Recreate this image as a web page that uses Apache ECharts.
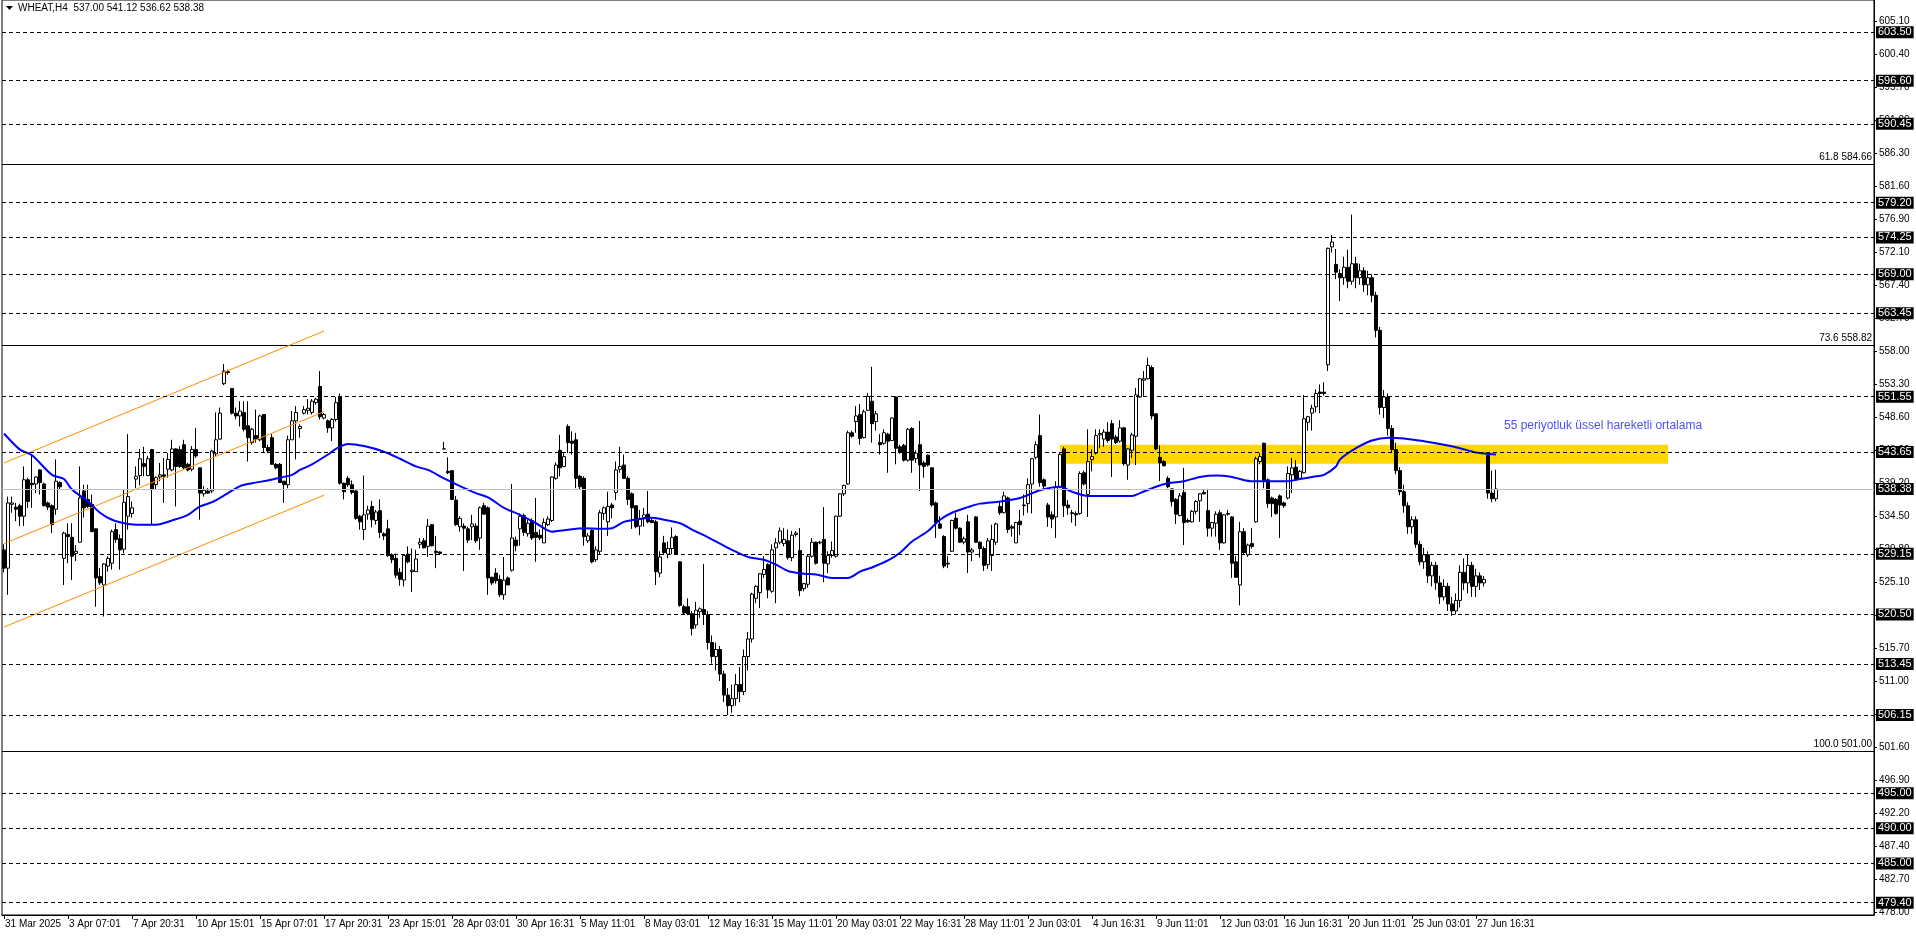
<!DOCTYPE html>
<html><head><meta charset="utf-8">
<script src="https://cdn.jsdelivr.net/npm/echarts@6.0.0/dist/echarts.min.js"></script>
<style>html,body{margin:0;padding:0;background:#fff;overflow:hidden}#c{width:1916px;height:936px}</style>
</head><body><div id="c"></div>
<script>
const headerText = 'WHEAT,H4  537.00 541.12 536.62 538.38';
const maText = '55 periyotluk üssel hareketli ortalama';
const timeLabels = ['31 Mar 2025','3 Apr 07:01','7 Apr 20:31','10 Apr 15:01','15 Apr 07:01','17 Apr 20:31','23 Apr 15:01','28 Apr 03:01','30 Apr 16:31','5 May 11:01','8 May 03:01','12 May 16:31','15 May 11:01','20 May 03:01','22 May 16:31','28 May 11:01','2 Jun 03:01','4 Jun 16:31','9 Jun 11:01','12 Jun 03:01','16 Jun 16:31','20 Jun 11:01','25 Jun 03:01','27 Jun 16:31'];
const priceTicks = [605.10,600.40,595.70,591.00,586.30,581.60,576.90,572.10,567.40,562.70,558.00,553.30,548.60,543.90,539.20,534.50,529.80,525.10,520.40,515.70,511.00,506.30,501.60,496.90,492.20,487.40,482.70,478.00];
const dashedLevels = [603.50,596.60,590.45,579.20,574.25,569.00,563.45,551.55,543.65,529.15,520.50,513.45,506.15,495.00,490.00,485.00,479.40];
const fibNames = ['61.8','73.6','100.0'];
const fibLevels = [584.66,558.82,501.00];
const lastPrice = 538.38;
const zoneBars = [264, 416];
const zonePrices = [544.7, 542.0];
const channelBars = [0, 80];
const channelUpper = [542.1, 560.9];
const channelMiddle = [530.6, 549.4];
const channelLower = [518.7, 537.5];
const maLabelPoint = [374.5, 547.4];
// [open, close, low, high]
const candles = [
[529.7,527.1,526.5,530.5],[527.1,536.4,523.3,537.3],[536.2,536.4,535.0,537.3],[535.8,535.5,533.8,536.4],[536.0,534.5,533.1,536.3],
[534.5,539.7,533.1,541.6],[539.7,536.6,535.7,540.0],[539.2,539.0,535.7,543.1],[539.1,540.1,537.8,540.2],[541.1,539.3,537.6,541.2],
[539.1,536.0,535.9,539.3],[536.4,535.8,535.4,536.6],[536.0,533.3,532.1,536.2],[535.5,539.5,534.7,542.6],[539.3,538.7,538.3,539.5],
[528.5,532.1,524.7,532.3],[531.9,531.6,527.8,533.5],[531.5,528.8,525.4,533.5],[529.2,529.5,528.1,530.4],[530.8,537.1,530.8,541.6],
[538.1,535.7,534.3,539.0],[536.9,535.9,535.7,539.0],[536.2,532.3,532.3,537.6],[532.7,525.7,521.6,532.8],[525.9,525.0,524.7,527.1],
[524.7,527.7,520.2,527.8],[527.4,528.5,526.6,528.8],[527.8,532.3,526.9,532.6],[532.6,531.2,530.7,533.5],[531.3,529.7,526.9,531.9],
[529.8,536.5,529.2,538.3],[534.5,537.3,532.6,546.2],[534.9,535.7,534.3,536.6],[539.8,540.2,538.5,541.6],[540.3,542.7,538.9,544.1],
[542.0,541.6,540.2,544.4],[540.3,542.7,540.2,543.1],[544.0,538.3,533.3,544.1],[539.0,540.0,538.3,540.2],[540.1,540.4,539.5,542.1],
[540.4,540.2,536.4,542.8],[541.2,542.6,540.0,543.5],[541.1,544.1,540.9,545.4],[544.1,541.6,535.9,544.2],[544.0,541.6,541.4,544.5],
[544.7,541.4,541.2,545.4],[541.9,541.1,540.9,542.1],[541.2,544.0,540.9,544.5],[544.0,543.1,542.8,547.1],[541.4,537.8,534.0,541.4],
[537.7,538.2,537.3,538.8],[538.1,537.8,537.7,538.5],[538.1,543.8,537.8,544.0],[543.4,545.4,543.1,549.3],[545.5,549.2,545.4,550.0],
[553.4,555.2,553.2,556.2],[555.1,555.0,554.7,555.4],[552.7,549.2,549.0,552.8],[549.2,548.8,548.3,550.0],[548.8,549.5,547.3,550.9],
[549.3,546.9,546.6,550.9],[547.4,545.7,542.3,550.9],[545.0,546.9,544.7,547.1],[546.0,545.5,545.0,549.7],[545.4,548.8,545.2,549.0],
[549.0,544.3,543.5,549.0],[544.3,543.8,543.5,544.7],[545.7,541.9,541.9,546.2],[541.9,541.4,541.2,542.1],[541.9,539.3,539.3,542.1],
[539.5,539.0,536.4,539.5],[539.0,545.4,538.5,546.0],[545.4,548.1,545.4,549.5],[548.1,549.3,542.6,550.2],[547.0,547.3,545.7,547.6],
[549.2,549.7,549.0,550.2],[549.6,549.9,549.0,551.2],[549.3,550.9,549.0,551.2],[550.7,551.2,550.4,551.4],[553.0,548.7,548.3,555.2],
[548.5,549.0,548.3,549.2],[548.1,547.1,546.4,548.3],[547.1,548.3,545.2,548.5],[548.3,550.7,548.0,551.5],[551.5,539.2,539.0,552.0],
[539.2,538.0,536.9,539.3],[539.9,539.0,538.7,540.2],[539.0,537.9,537.6,539.6],[538.1,534.2,534.0,538.3],[534.5,533.7,532.6,534.7],
[532.6,534.7,531.1,540.3],[534.8,535.4,534.0,536.0],[535.9,534.0,532.9,536.7],[533.9,535.1,533.3,535.4],[535.3,532.2,531.4,536.9],
[532.0,531.7,531.1,532.2],[532.7,528.9,528.7,534.0],[529.0,528.3,527.8,529.2],[528.5,526.1,525.7,529.2],[526.5,525.5,524.6,527.1],
[525.4,528.9,524.5,529.0],[529.1,528.0,527.8,530.2],[526.6,526.8,523.7,529.9],[526.6,528.4,526.6,529.7],[530.5,530.8,529.9,531.4],
[531.0,530.0,529.9,531.4],[530.2,533.1,528.7,534.1],[533.3,530.3,530.2,533.4],[529.5,529.3,527.1,531.7],[529.4,529.2,529.1,529.5],
[544.1,544.1,544.1,545.1],[540.9,540.7,540.5,542.9],[541.0,536.9,536.8,541.0],[536.8,533.3,533.1,537.4],[533.0,534.2,532.3,534.5],
[533.1,532.8,526.7,533.5],[532.7,531.1,530.7,533.0],[533.0,533.4,531.1,534.7],[533.1,531.0,530.7,533.5],[531.4,535.7,529.7,535.9],
[536.0,534.8,534.7,536.4],[535.7,525.7,523.3,535.9],[525.8,525.0,524.7,525.9],[526.4,525.3,524.9,527.1],[525.5,523.3,523.0,526.1],
[523.3,525.4,522.6,528.7],[525.7,524.7,524.7,525.9],[526.8,531.4,526.6,539.1],[531.1,530.3,529.5,531.6],[532.7,534.5,530.3,534.9],
[534.6,532.2,531.7,534.9],[532.0,533.5,531.6,534.0],[533.9,531.4,531.1,534.2],[532.2,531.5,528.0,537.1],[531.8,531.4,531.1,532.6],
[530.7,533.6,530.7,534.2],[533.3,534.1,533.1,534.5],[533.9,540.1,533.7,540.2],[539.9,541.8,539.7,542.2],[543.9,541.4,540.2,546.1],
[541.6,543.0,541.5,543.5],[547.3,545.0,543.5,547.6],[545.2,544.9,543.3,546.6],[545.4,539.9,538.5,546.4],[540.2,538.7,538.3,540.4],
[539.9,531.6,530.3,540.2],[531.0,531.7,530.7,532.1],[532.5,528.0,527.8,532.6],[528.3,529.7,528.0,530.2],[529.5,535.0,529.0,535.4],
[534.9,535.7,534.0,535.9],[533.7,535.9,531.7,538.0],[536.1,535.7,534.2,536.4],[537.9,541.1,536.8,542.3],[541.2,541.6,540.7,544.4],
[541.8,539.9,539.8,543.3],[539.9,536.9,536.1,540.2],[537.7,535.7,532.7,537.9],[536.0,533.0,532.8,536.1],[533.1,534.2,531.8,535.4],
[534.3,534.7,533.0,535.7],[534.8,533.7,533.5,538.1],[533.9,533.6,533.5,534.2],[533.7,526.6,524.7,534.0],[526.4,528.7,525.8,529.5],
[530.7,529.3,529.0,531.7],[529.1,529.9,528.5,530.9],[529.9,531.5,529.1,532.9],[531.6,529.1,529.0,531.8],[528.0,521.8,521.6,528.1],
[521.6,520.7,520.5,521.9],[521.6,520.6,520.4,522.8],[520.6,518.5,517.5,521.0],[519.0,521.1,518.5,522.3],[520.9,521.3,520.0,521.5],
[521.2,520.5,519.0,527.7],[520.5,516.5,515.5,521.0],[516.5,514.5,513.5,517.5],[514.5,515.5,512.5,516.5],[515.5,512.0,511.0,516.0],
[512.0,509.0,508.0,512.5],[509.0,507.5,506.15,510.0],[507.5,508.5,506.5,510.5],[508.5,510.5,507.5,512.0],[510.5,509.5,508.0,513.0],
[509.5,514.5,509.0,515.5],[514.5,517.0,512.5,518.0],[517.0,523.4,516.5,523.6],[522.8,524.5,522.1,524.7],[523.6,526.3,521.4,526.4],
[526.2,526.9,525.7,528.8],[527.6,524.0,522.8,527.8],[523.8,529.7,523.6,530.5],[530.0,530.7,522.1,531.4],[530.8,532.4,530.5,532.9],
[530.6,531.2,530.2,532.8],[531.0,528.6,528.3,532.6],[528.6,531.8,528.1,532.4],[531.9,532.1,531.6,532.4],[529.6,523.9,523.1,532.8],
[524.2,524.9,523.8,525.0],[524.8,528.8,524.3,529.0],[528.8,530.8,528.6,531.4],[530.8,527.8,527.6,530.9],[530.7,530.8,530.5,531.0],
[531.2,527.8,525.1,535.8],[527.7,528.9,526.4,529.5],[528.9,529.6,528.6,530.9],[528.8,534.5,528.6,534.6],[534.5,537.7,534.4,537.8],
[537.7,538.9,537.4,539.0],[539.1,546.4,539.0,546.7],[546.4,545.9,545.7,546.7],[548.0,548.8,546.4,550.2],[549.0,545.6,544.7,550.5],
[545.7,549.4,545.6,549.7],[549.6,551.6,549.5,552.1],[550.9,547.7,545.0,555.8],[548.0,549.1,546.7,549.5],[545.0,544.7,543.3,546.2],
[544.9,546.4,544.7,546.9],[546.2,545.2,540.7,546.4],[545.3,548.5,545.2,548.6],[551.5,544.2,541.9,551.6],[544.4,543.6,543.4,544.7],
[544.6,542.5,542.3,544.8],[542.5,546.9,542.3,547.1],[547.0,542.5,540.7,547.2],[542.7,543.5,542.1,543.9],[544.7,541.8,538.1,548.1],
[542.1,541.6,540.0,542.4],[543.2,541.8,541.6,543.3],[541.4,536.1,535.9,541.5],[536.4,533.6,531.4,536.6],[533.4,532.8,532.7,534.5],
[531.6,527.4,527.1,531.8],[527.8,527.7,527.1,528.8],[529.5,533.9,529.4,534.0],[534.2,532.8,532.6,535.0],[532.8,530.8,530.7,532.9],
[530.8,531.3,530.5,531.6],[533.7,529.4,526.4,534.7],[529.4,529.7,528.1,530.0],[534.4,530.8,530.7,534.5],[530.8,529.9,528.6,530.9],
[529.9,527.5,526.7,530.2],[527.6,531.0,527.0,531.4],[528.9,531.2,526.7,533.3],[530.8,533.4,530.4,533.6],[535.9,535.0,534.7,536.6],
[535.0,537.4,534.9,538.0],[537.1,532.6,532.1,537.3],[533.0,532.8,531.6,533.3],[530.7,533.6,530.7,533.7],[533.8,533.3,531.8,535.4],
[536.1,536.0,534.6,537.6],[536.3,539.0,535.0,539.9],[539.1,542.7,534.9,542.8],[542.9,544.7,542.6,545.2],[546.0,539.3,538.7,549.0],
[539.7,538.8,538.3,539.9],[536.1,534.4,533.0,536.4],[534.7,534.1,532.8,535.2],[534.4,538.7,531.4,539.5],[538.7,543.3,538.5,543.5],
[544.1,536.0,534.4,544.4],[536.1,535.7,534.7,536.8],[535.0,534.9,533.6,535.4],[534.9,534.7,533.1,535.2],[534.9,540.6,534.7,540.9],
[540.7,539.1,538.9,541.0],[537.6,542.3,534.4,546.9],[542.6,543.0,540.9,544.0],[543.5,546.0,543.3,546.9],[546.1,546.3,544.2,546.9],
[545.5,546.5,544.4,546.9],[546.5,545.3,545.0,547.9],[547.7,545.5,540.1,548.2],[545.8,545.0,544.8,546.1],[545.2,547.1,545.0,548.2],
[547.1,542.0,541.7,547.2],[541.8,544.1,539.7,544.2],[543.9,546.1,542.8,546.4],[545.9,551.8,541.8,552.8],[551.5,554.1,551.4,554.2],
[553.9,554.1,551.6,555.2],[554.1,556.0,554.0,557.1],[555.7,548.8,548.3,556.0],[549.1,544.1,543.9,549.2],[542.9,542.1,539.5,544.6],
[542.3,541.7,541.6,542.5],[539.9,538.7,538.5,540.2],[538.4,536.6,535.9,538.5],[536.9,534.8,533.4,537.1],[534.6,537.4,534.5,537.8],
[537.9,533.6,530.4,541.4],[533.9,533.7,533.6,534.2],[533.7,535.2,533.6,535.4],[535.2,536.6,534.8,536.8],[536.7,537.7,533.7,537.8],
[537.9,537.7,537.6,538.4],[535.3,532.8,531.6,538.4],[532.8,533.6,531.6,533.7],[533.5,534.8,531.6,535.2],[535.0,530.7,529.7,535.4],
[530.7,534.7,530.6,534.8],[534.9,534.8,534.6,535.4],[534.4,527.8,525.7,534.5],[528.0,525.8,525.7,528.8],[524.7,532.3,521.8,533.7],
[532.3,529.3,529.0,532.8],[529.0,530.4,528.7,530.6],[530.6,530.2,529.9,532.8],[533.7,542.7,533.6,543.0],[542.3,543.0,541.9,543.5],
[544.9,539.6,538.5,545.0],[539.7,536.3,535.7,539.9],[537.1,536.3,534.4,537.3],[536.9,534.9,534.7,537.1],[537.4,536.1,531.4,537.6],
[536.4,536.0,535.7,536.6],[537.1,540.6,536.9,541.6],[540.4,541.4,537.8,542.8],[541.5,539.7,539.6,542.5],[539.9,540.9,539.8,541.1],
[540.7,548.4,540.6,551.8],[547.9,548.7,546.7,548.8],[549.2,549.9,546.7,550.4],[550.1,552.0,549.3,552.6],[552.2,552.0,549.2,553.3],
[552.2,552.0,551.7,553.6],[556.1,572.7,555.2,572.8],[572.9,573.6,572.1,574.6],[570.4,569.3,568.3,572.6],[569.1,568.5,565.2,569.7],
[568.5,570.0,567.5,571.5],[570.0,568.0,567.0,572.5],[568.0,570.5,567.5,577.5],[570.5,568.5,567.0,571.5],[568.5,569.5,567.5,570.5],
[569.5,567.5,566.5,570.0],[567.5,568.5,566.0,569.5],[568.5,566.0,565.0,569.0],[566.0,561.0,560.0,566.5],[561.0,550.0,549.0,561.5],
[550.0,551.5,548.5,552.5],[551.5,547.0,546.0,552.0],[547.0,544.0,543.5,547.5],[544.0,541.0,540.5,545.0],[541.0,538.0,537.5,541.5],
[538.0,536.0,535.0,539.0],[536.0,533.0,532.0,536.5],[533.0,534.0,532.0,534.5],[534.0,530.5,530.0,534.5],[530.5,528.0,527.5,531.0],
[528.0,529.0,527.0,530.0],[529.0,526.0,525.0,529.5],[526.0,527.5,524.5,528.0],[527.5,525.0,524.0,528.0],[525.0,523.0,522.0,526.0],
[523.0,524.5,522.5,525.5],[524.5,522.0,521.0,525.0],[522.0,521.0,520.3,523.0],[521.0,522.5,520.5,523.5],[522.5,526.5,521.5,527.5],
[526.5,525.0,524.0,528.5],[525.0,527.5,523.5,529.0],[527.5,524.5,523.0,528.0],[524.5,526.0,523.0,527.0],[526.0,525.0,524.0,526.5],
[525.0,525.5,524.5,526.0],[543.2,537.8,537.0,543.4],[537.8,537.0,536.5,541.0],[537.00,538.38,536.62,541.12]
];
// 55-period EMA at sample bars: [bar, value]
const emaPoints = [[0,546.3],[4,544.0],[7,543.2],[12,540.4],[15,539.8],[17,538.3],[21,536.6],[24,535.0],[27,534.0],[31,533.4],[34,533.3],[38,533.3],[42,533.9],[46,534.7],[49,535.9],[52,536.5],[56,537.8],[59,538.8],[62,539.2],[66,539.6],[69,540.0],[72,540.4],[74,541.1],[77,541.9],[81,543.3],[83,544.1],[86,544.8],[90,544.5],[95,543.7],[99,542.7],[103,541.6],[106,541.1],[110,539.9],[114,538.8],[118,537.8],[121,537.2],[125,535.7],[129,534.7],[133,533.5],[137,532.3],[140,532.5],[145,532.8],[149,532.7],[152,532.8],[155,533.7],[159,534.1],[162,534.3],[165,534.0],[169,533.5],[172,532.6],[176,531.5],[179,530.6],[182,529.7],[186,528.7],[190,528.3],[193,527.6],[196,526.7],[200,526.3],[203,526.2],[207,525.7],[211,525.7],[214,526.6],[217,527.2],[221,528.2],[224,529.3],[227,530.9],[231,532.4],[234,534.0],[237,535.0],[241,535.8],[244,536.3],[249,536.6],[254,537.1],[259,538.2],[264,538.7],[267,538.0],[271,537.4],[276,537.4],[282,537.4],[284,537.8],[288,538.7],[291,539.2],[295,539.5],[299,540.1],[303,540.3],[307,540.1],[309,539.8],[312,539.5],[316,539.5],[321,539.5],[324,539.8],[328,540.2],[330,540.4],[333,541.6],[334,542.6],[338,544.2],[342,545.3],[346,545.7],[350,545.6],[355,545.2],[360,544.7],[364,544.2],[368,543.6],[373,543.3]];

const TOTAL_SLOTS = 468;
const LABEL_STEP = 16;
const categories = Array.from({length: TOTAL_SLOTS}, (_, i) => String(i));
const showTick = i => i % LABEL_STEP === 0 && (i / LABEL_STEP) < timeLabels.length;
const FONT = 'Liberation Sans';

const chart = echarts.init(document.getElementById('c'), null, {renderer: 'canvas'});
const boxLabel = {
  show: true, position: 'end', distance: 2,
  formatter: p => Number(p.value).toFixed(2),
  backgroundColor: '#000', color: '#fff', fontSize: 11, fontFamily: FONT,
  padding: [1, 2, 0, 2], lineHeight: 11
};
const chanLine = (a) => [{coord: [channelBars[0], a[0]]}, {coord: [channelBars[1], a[1]]}];

chart.setOption({
  animation: false,
  backgroundColor: '#fff',
  grid: {left: 2, right: 42, top: 0, bottom: 21, show: true, borderColor: '#000', borderWidth: 1},
  xAxis: {
    type: 'category', data: categories, boundaryGap: true,
    axisLine: {show: true, lineStyle: {color: '#000'}},
    axisTick: {show: true, alignWithLabel: true, interval: (i) => showTick(i), length: 4, lineStyle: {color: '#000'}},
    axisLabel: {interval: (i) => showTick(i), formatter: (v, i) => timeLabels[i / LABEL_STEP] || '',
      align: 'left', margin: 4, color: '#000', fontSize: 10, fontFamily: FONT, padding: [0, 0, 0, 1]},
    splitLine: {show: false}
  },
  yAxis: {
    type: 'value', position: 'right', min: 477.65, max: 608.1, scale: true, z: 0,
    axisLine: {show: true, lineStyle: {color: '#000'}},
    axisTick: {show: true, customValues: priceTicks, length: 3, lineStyle: {color: '#000'}},
    axisLabel: {customValues: priceTicks, formatter: v => Number(v).toFixed(2), color: '#000', fontSize: 10, fontFamily: FONT, margin: 5},
    splitLine: {show: false}
  },
  graphic: [
    {type: 'polygon', shape: {points: [[6, 6], [13, 6], [9.5, 10]]}, style: {fill: '#000'}},
    {type: 'text', left: 18, top: 3, style: {text: headerText, fill: '#000', font: '10px ' + FONT}}
  ],
  series: [
    {
      type: 'line', name: 'zone', data: [], z: 3, silent: true,
      markArea: {silent: true, z: 1, itemStyle: {color: '#FFD700', opacity: 1},
        data: [[{coord: [zoneBars[0], zonePrices[0]]}, {coord: [zoneBars[1], zonePrices[1]]}]]},
      markLine: {silent: true, symbol: 'none', animation: false, z: 8,
        lineStyle: {color: '#000', type: [4, 3], width: 1},
        label: boxLabel,
        data: dashedLevels.map(v => ({yAxis: v}))}
    },
    {
      type: 'line', name: 'fib', data: [], z: 3, silent: true,
      markLine: {silent: true, symbol: 'none', animation: false,
        lineStyle: {color: '#000', type: 'solid', width: 1},
        label: {show: true, position: 'insideEndTop', distance: 2, color: '#000', fontSize: 10, fontFamily: FONT,
          formatter: p => p.name + ' ' + Number(p.value).toFixed(2)},
        data: fibLevels.map((v, i) => ({yAxis: v, name: fibNames[i]}))}
    },
    {
      type: 'line', name: 'price', data: [], z: 3, silent: true,
      markLine: {silent: true, symbol: 'none', animation: false, z: 8,
        lineStyle: {color: '#c0c0c0', type: 'solid', width: 1},
        label: boxLabel,
        data: [{yAxis: lastPrice}]}
    },
    {
      type: 'line', name: 'channel', data: [], z: 3, silent: true,
      markLine: {silent: true, symbol: 'none', animation: false,
        lineStyle: {color: '#FF8C00', type: 'solid', width: 1}, label: {show: false},
        data: [chanLine(channelUpper), chanLine(channelMiddle), chanLine(channelLower)]}
    },
    {
      type: 'candlestick', name: 'WHEAT', data: candles, z: 4, barWidth: 3,
      itemStyle: {color: '#fff', color0: '#000', borderColor: '#000', borderColor0: '#000', borderWidth: 1}
    },
    {
      type: 'line', name: 'EMA55', data: emaPoints, z: 5, smooth: 0.3, showSymbol: false, symbol: 'none',
      lineStyle: {color: '#0000ff', width: 2}
    },
    {
      type: 'scatter', name: 'maLabel', data: [maLabelPoint], symbolSize: 0, z: 6, silent: true,
      label: {show: true, position: 'right', distance: 0, formatter: maText, color: '#2020ff', fontSize: 12, fontFamily: FONT}
    }
  ]
});
</script></body></html>
